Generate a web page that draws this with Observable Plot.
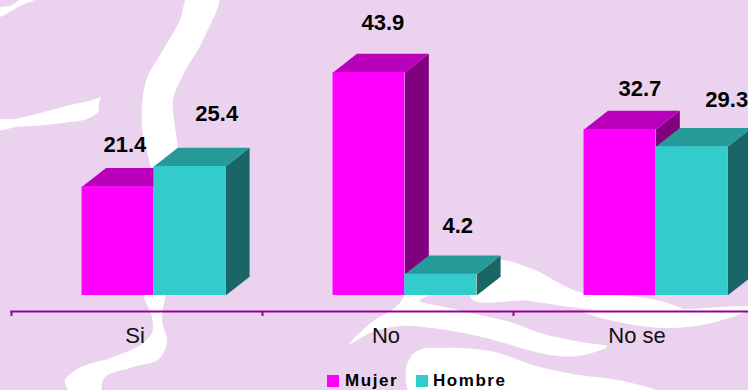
<!DOCTYPE html>
<html lang="es">
<head>
<meta charset="utf-8">
<script src="https://cdn.jsdelivr.net/npm/d3@7"></script>
<script src="https://cdn.jsdelivr.net/npm/@observablehq/plot@0.6"></script>
<style>
  html,body{margin:0;padding:0;width:748px;height:390px;overflow:hidden;background-color:#ebd3ef;font-family:"Liberation Sans",Arial,sans-serif;}
  #chart{position:absolute;left:0;top:0;}
  #legend{position:absolute;left:0;top:370px;width:748px;height:20px;}
  .k{position:absolute;top:5px;width:12px;height:12px;}
  .t{position:absolute;top:1px;font-size:17px;font-weight:bold;letter-spacing:1.55px;line-height:20px;color:#000;}
</style>
</head>
<body>
<div id="chart"></div>
<div id="legend">
  <span class="k" style="left:327px;background:#ff00ff"></span><span class="t" style="left:345px">Mujer</span>
  <span class="k" style="left:416px;background:#33cccc"></span><span class="t" style="left:433px">Hombre</span>
</div>
<script>
// Data
const categories = ["Si", "No", "No se"];
const mujer = [21.4, 43.9, 32.7];
const hombre = [25.4, 4.2, 29.3];

// Decorative backdrop (the slide's pale ribbon artwork, not data)
const ribbons = [
  [[190,-8],[180,20],[160,55],[147,78],[142,105],[143,135],[150,165],[148,230],[145,300],[152,317],[152,333],[143,343],[113,357],[73,372],[65,380],[73,395],[100,395],[103,380],[133,367],[160,358],[167,343],[162,320],[165,298],[180,240],[178,147],[174,120],[173,100],[183,75],[203,40],[217,-8]],
  [[-5,11],[12,5],[25,-3],[40,-3],[22,5],[-5,15]],
  [[-8,123],[15,119],[40,113],[70,105],[99,97.5],[100,97],[99,104],[98,112],[97,113],[87,119],[70,122],[45,125],[20,126.5],[-8,127]],
  // sweep from the lower left, under "No", to its tip at the right
  [[350,344],[372,322],[397,306],[410,290],[470,285],[420,301],[450,308],[480,315],[510,322],[540,333],[560,338],[587,343],[607,346],[577,356],[550,355],[540,353],[490,339],[440,329],[400,326],[370,333]],
  // band behind the right side of the second group
  [[470,296],[480,265],[500,260],[527,267],[583,293],[630,296],[660,301],[683,309],[600,310],[570,307],[530,301]],
  // band under the axis on the right
  [[583,312],[623,323],[673,328],[707,324],[752,309],[650,311]],
  // large lower band
  [[408,395],[408,362],[413,354],[422,349],[440,348],[490,351],[540,367],[573,374],[623,381],[672,395]]
];
const ribbonPath = d3.line().curve(d3.curveCatmullRomClosed.alpha(1));
const bgSvg = `<svg xmlns="http://www.w3.org/2000/svg" width="748" height="390"><g fill="#ffffff">${ribbons.map(r => `<path d="${ribbonPath(r)}"/>`).join("")}</g></svg>`;
document.body.style.backgroundImage = `url("data:image/svg+xml,${encodeURIComponent(bgSvg)}")`;
document.body.style.backgroundRepeat = "no-repeat";

// Layout of the pseudo-3D bars, in scale units
const barStart = 0.281, barWidth = 0.286, depthX = 24 / 251, depthY = 3.68;
const bars = (values, slot) => values.map((v, i) => ({
  category: categories[i], value: v,
  x1: i + barStart + slot * barWidth, x2: i + barStart + (slot + 1) * barWidth
}));
const faces = (rows, topColor, sideColor) => rows.flatMap((d, i) => [
  ...[[d.x2, 0], [d.x2 + depthX, depthY], [d.x2 + depthX, d.value + depthY], [d.x2, d.value]]
    .map(([x, y]) => ({x, y, z: `side${i}`, fill: sideColor})),
  ...[[d.x1, d.value], [d.x1 + depthX, d.value + depthY], [d.x2 + depthX, d.value + depthY], [d.x2, d.value]]
    .map(([x, y]) => ({x, y, z: `top${i}`, fill: topColor}))
]);
const solid = (rows, color) => [
  Plot.line(faces(rows, color[1], color[2]), {x: "x", y: "y", z: "z", fill: "fill", stroke: null, curve: "linear"}),
  Plot.rect(rows, {x1: "x1", x2: "x2", y1: 0, y2: "value", fill: color[0]})
];
const mujerBars = bars(mujer, 0);
const hombreBars = bars(hombre, 1);

// Hand placement of the value labels, as in the source (pixels from the bar's front-top centre)
const labelNudge = {
  mujer: [[7, 34], [14, 42], [20, 32]],
  hombre: [[27, 44], [17, 40], [35, 39]]
};
const pxX = 251, pxY = 223 / 43.9;
const labels = (rows, nudge) => rows.map((d, i) => ({
  x: (d.x1 + d.x2) / 2 + nudge[i][0] / pxX,
  y: d.value + nudge[i][1] / pxY,
  text: d.value.toFixed(1)
}));

const plot = Plot.plot({
  width: 748, height: 370,
  marginLeft: 11, marginRight: 0, marginTop: 0, marginBottom: 59,
  style: {background: "transparent", fontFamily: '"Liberation Sans", Arial, sans-serif', overflow: "hidden"},
  x: {type: "linear", domain: [0, 3], range: [11, 764], axis: null},
  y: {domain: [0, 43.9], range: [295, 72], axis: null},
  marks: [
    ...solid(mujerBars, ["#ff00ff", "#bb00bb", "#800080"]),
    ...solid(hombreBars, ["#33cccc", "#269999", "#1a6666"]),
    Plot.frame({anchor: "bottom", stroke: "#990099", strokeWidth: 2}),
    Plot.axisX({ticks: [0, 1, 2, 3], tickSize: 5, tickFormat: () => "", stroke: "#990099", strokeWidth: 2, label: null}),
    Plot.axisX({ticks: [0.5, 1.5, 2.5], tickSize: 0, tickPadding: 16, dx: -2, tickFormat: d => categories[Math.floor(d)], fontSize: 22, fill: "#111", label: null}),
    Plot.text([...labels(mujerBars, labelNudge.mujer), ...labels(hombreBars, labelNudge.hombre)], {
      x: "x", y: "y", text: "text", fontSize: 22, fontWeight: "bold", fill: "#000", textAnchor: "middle", lineAnchor: "bottom", dy: -1
    })
  ]
});
document.getElementById("chart").append(plot);
</script>
</body>
</html>
